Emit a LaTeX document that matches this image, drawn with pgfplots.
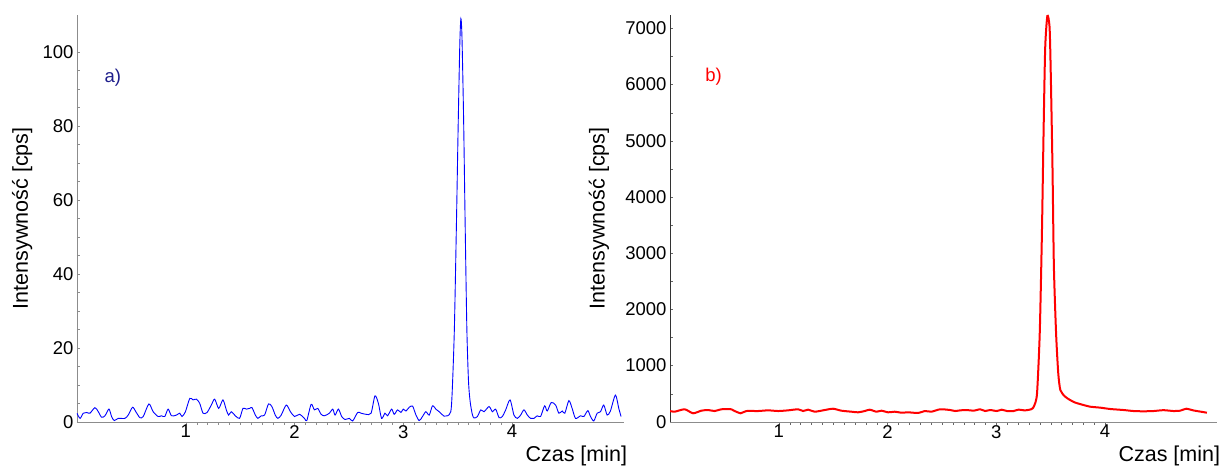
\documentclass[border=0pt]{standalone}
\usepackage{fontspec}
\setmainfont{Liberation Sans}
\usepackage{pgfplots}
\pgfplotsset{compat=1.18}
\definecolor{navy}{RGB}{30,30,140}

\pgfplotsset{
  chrom/.style={
    scale only axis, width=547pt, height=406.7pt,
    axis lines=left, axis line style={-},
    xmin=0, xmax=5.03, ymin=0,
    xtick={1,2,3,4}, minor x tick num=9,
    tick align=inside, major tick length=3pt, minor tick length=3pt,
    xtick style={yshift=-3pt},
    /pgf/number format/assume math mode=true,
    /pgf/number format/1000 sep={},
    tick label style={font=\fontsize{18.5}{20}\selectfont, black},
    label style={font=\fontsize{21.5}{24}\selectfont},
    xlabel={Czas [min]},
    ylabel={Intensywność [cps]},
    xlabel style={at={(axis description cs:1.006,-0.058)}, anchor=north east, inner sep=0pt},
  }
}

\begin{document}
\begin{tikzpicture}
% a) -- blue chromatogram
\begin{axis}[chrom,
    ymax=110, ytick={0,20,40,60,80,100}, minor y tick num=3,
    axis line style={black!45}, tick style={black!45},
    ylabel style={at={(axis description cs:-0.1,0.5)}, anchor=center},
]
\addplot[blue, line width=0.9pt, smooth, tension=0.45] coordinates {
(0.000,2.3) (0.028,0.9) (0.058,2.3) (0.089,2.5) (0.119,2.3) (0.165,3.8) (0.196,2.7)
(0.226,1.2) (0.257,1.6) (0.294,3.4) (0.318,1.4) (0.343,0.3) (0.379,0.9) (0.440,0.9)
(0.471,1.8) (0.511,3.9) (0.541,2.7) (0.578,1.1) (0.609,1.4) (0.661,4.8) (0.700,2.7)
(0.746,1.4) (0.777,1.6) (0.807,1.4) (0.838,3.4) (0.869,1.6) (0.915,1.8) (0.945,2.3)
(0.966,1.4) (0.997,2.7) (1.037,6.3) (1.067,5.9) (1.098,6.1) (1.128,5.0) (1.159,2.3)
(1.196,2.5) (1.235,4.5) (1.266,6.1) (1.303,3.6) (1.342,5.9) (1.373,3.2) (1.394,1.8)
(1.419,2.7) (1.456,1.6) (1.495,0.9) (1.526,3.6) (1.557,3.4) (1.587,3.6) (1.609,3.8)
(1.640,1.8) (1.663,0.9) (1.694,1.6) (1.725,1.8) (1.761,4.8) (1.792,4.1) (1.823,1.8)
(1.847,0.9) (1.878,1.8) (1.924,4.5) (1.963,2.7) (2.000,1.4) (2.046,2.0) (2.092,0.9)
(2.113,0.3) (2.153,4.7) (2.183,3.2) (2.214,3.6) (2.245,2.0) (2.275,1.6) (2.321,2.3)
(2.352,3.4) (2.373,1.8) (2.404,3.4) (2.434,1.4) (2.465,0.6) (2.505,0.9) (2.535,0.2)
(2.581,2.5) (2.612,2.3) (2.658,2.0) (2.704,2.3) (2.740,7.0) (2.771,5.0) (2.801,0.9)
(2.832,2.3) (2.856,1.6) (2.893,3.4) (2.917,2.0) (2.948,3.2) (2.979,2.5) (3.000,3.4)
(3.025,2.9) (3.055,3.9) (3.086,4.2) (3.117,1.8) (3.147,0.3) (3.177,1.4) (3.208,2.7)
(3.239,1.8) (3.269,4.3) (3.300,3.4) (3.330,2.7) (3.376,1.5) (3.407,1.6) (3.437,2.7)
(3.450,8) (3.470,25) (3.490,55) (3.505,80) (3.520,102) (3.530,109) (3.540,104)
(3.555,82) (3.570,52) (3.585,25) (3.600,11) (3.615,5.5) (3.635,2.0) (3.651,1.0)
(3.682,1.4) (3.713,3.2) (3.743,2.7) (3.789,4.1) (3.820,2.7) (3.850,3.4) (3.881,1.1)
(3.911,1.4) (3.942,3.2) (3.982,5.9) (4.018,1.8) (4.049,0.9) (4.080,1.8) (4.110,3.2)
(4.141,1.8) (4.171,0.9) (4.202,0.9) (4.232,1.6) (4.263,1.4) (4.300,4.3) (4.324,2.9)
(4.361,5.2) (4.401,4.5) (4.431,2.3) (4.462,2.9) (4.486,2.3) (4.523,5.7) (4.553,3.6)
(4.584,0.9) (4.630,1.6) (4.661,1.4) (4.697,3.0) (4.722,1.4) (4.752,0.2) (4.783,2.3)
(4.814,2.7) (4.844,4.5) (4.875,1.8) (4.905,2.9) (4.951,7.2) (4.982,3.6) (5.003,1.4)
};
\node[navy, font=\fontsize{18.5}{20}\selectfont] at (axis cs:0.33,93) {a)};
\end{axis}

% b) -- red chromatogram
\begin{axis}[chrom, at={(593pt,0pt)},
    ymax=7237, ytick={0,1000,...,7000}, minor y tick num=1,
    x axis line style={black!45}, y axis line style={black!80},
    tick style={black!60},
    ylabel style={at={(axis description cs:-0.130,0.5)}, anchor=center},
]
\addplot[red, line width=2pt, smooth, tension=0.4] coordinates {
(0.000,190) (0.043,178) (0.135,221) (0.212,150) (0.288,196) (0.350,208) (0.411,190)
(0.472,221) (0.564,221) (0.595,190) (0.650,150) (0.702,190) (0.810,190) (0.902,202)
(0.994,190) (1.086,202) (1.178,221) (1.224,190) (1.270,214) (1.331,178) (1.423,208)
(1.500,231) (1.576,196) (1.668,178) (1.730,167) (1.791,190) (1.837,214) (1.898,178)
(1.944,196) (2.006,167) (2.067,178) (2.128,160) (2.190,167) (2.282,155) (2.343,190)
(2.404,178) (2.484,221) (2.576,208) (2.622,190) (2.668,202) (2.729,208) (2.791,196)
(2.852,221) (2.898,190) (2.944,208) (3.005,190) (3.051,214) (3.098,190) (3.159,190)
(3.204,214) (3.266,202) (3.327,226) (3.350,290) (3.375,505) (3.400,1580) (3.420,3360)
(3.435,5140) (3.450,6650) (3.470,7220) (3.490,7030) (3.500,6320) (3.517,4540)
(3.530,2760) (3.550,1580) (3.570,865) (3.590,560) (3.634,445) (3.680,385) (3.726,340)
(3.802,297) (3.864,267) (3.956,250) (4.048,226) (4.170,208) (4.262,190) (4.354,185)
(4.446,190) (4.538,205) (4.630,190) (4.692,196) (4.747,231) (4.814,200) (4.876,180)
(4.937,160)
};
\node[red, font=\fontsize{18.5}{20}\selectfont] at (axis cs:0.40,6135) {b)};
\end{axis}
\pgfresetboundingbox
\path[use as bounding box] (-77pt,-44.3pt) rectangle (1145pt,421.7pt);
\end{tikzpicture}
\end{document}
